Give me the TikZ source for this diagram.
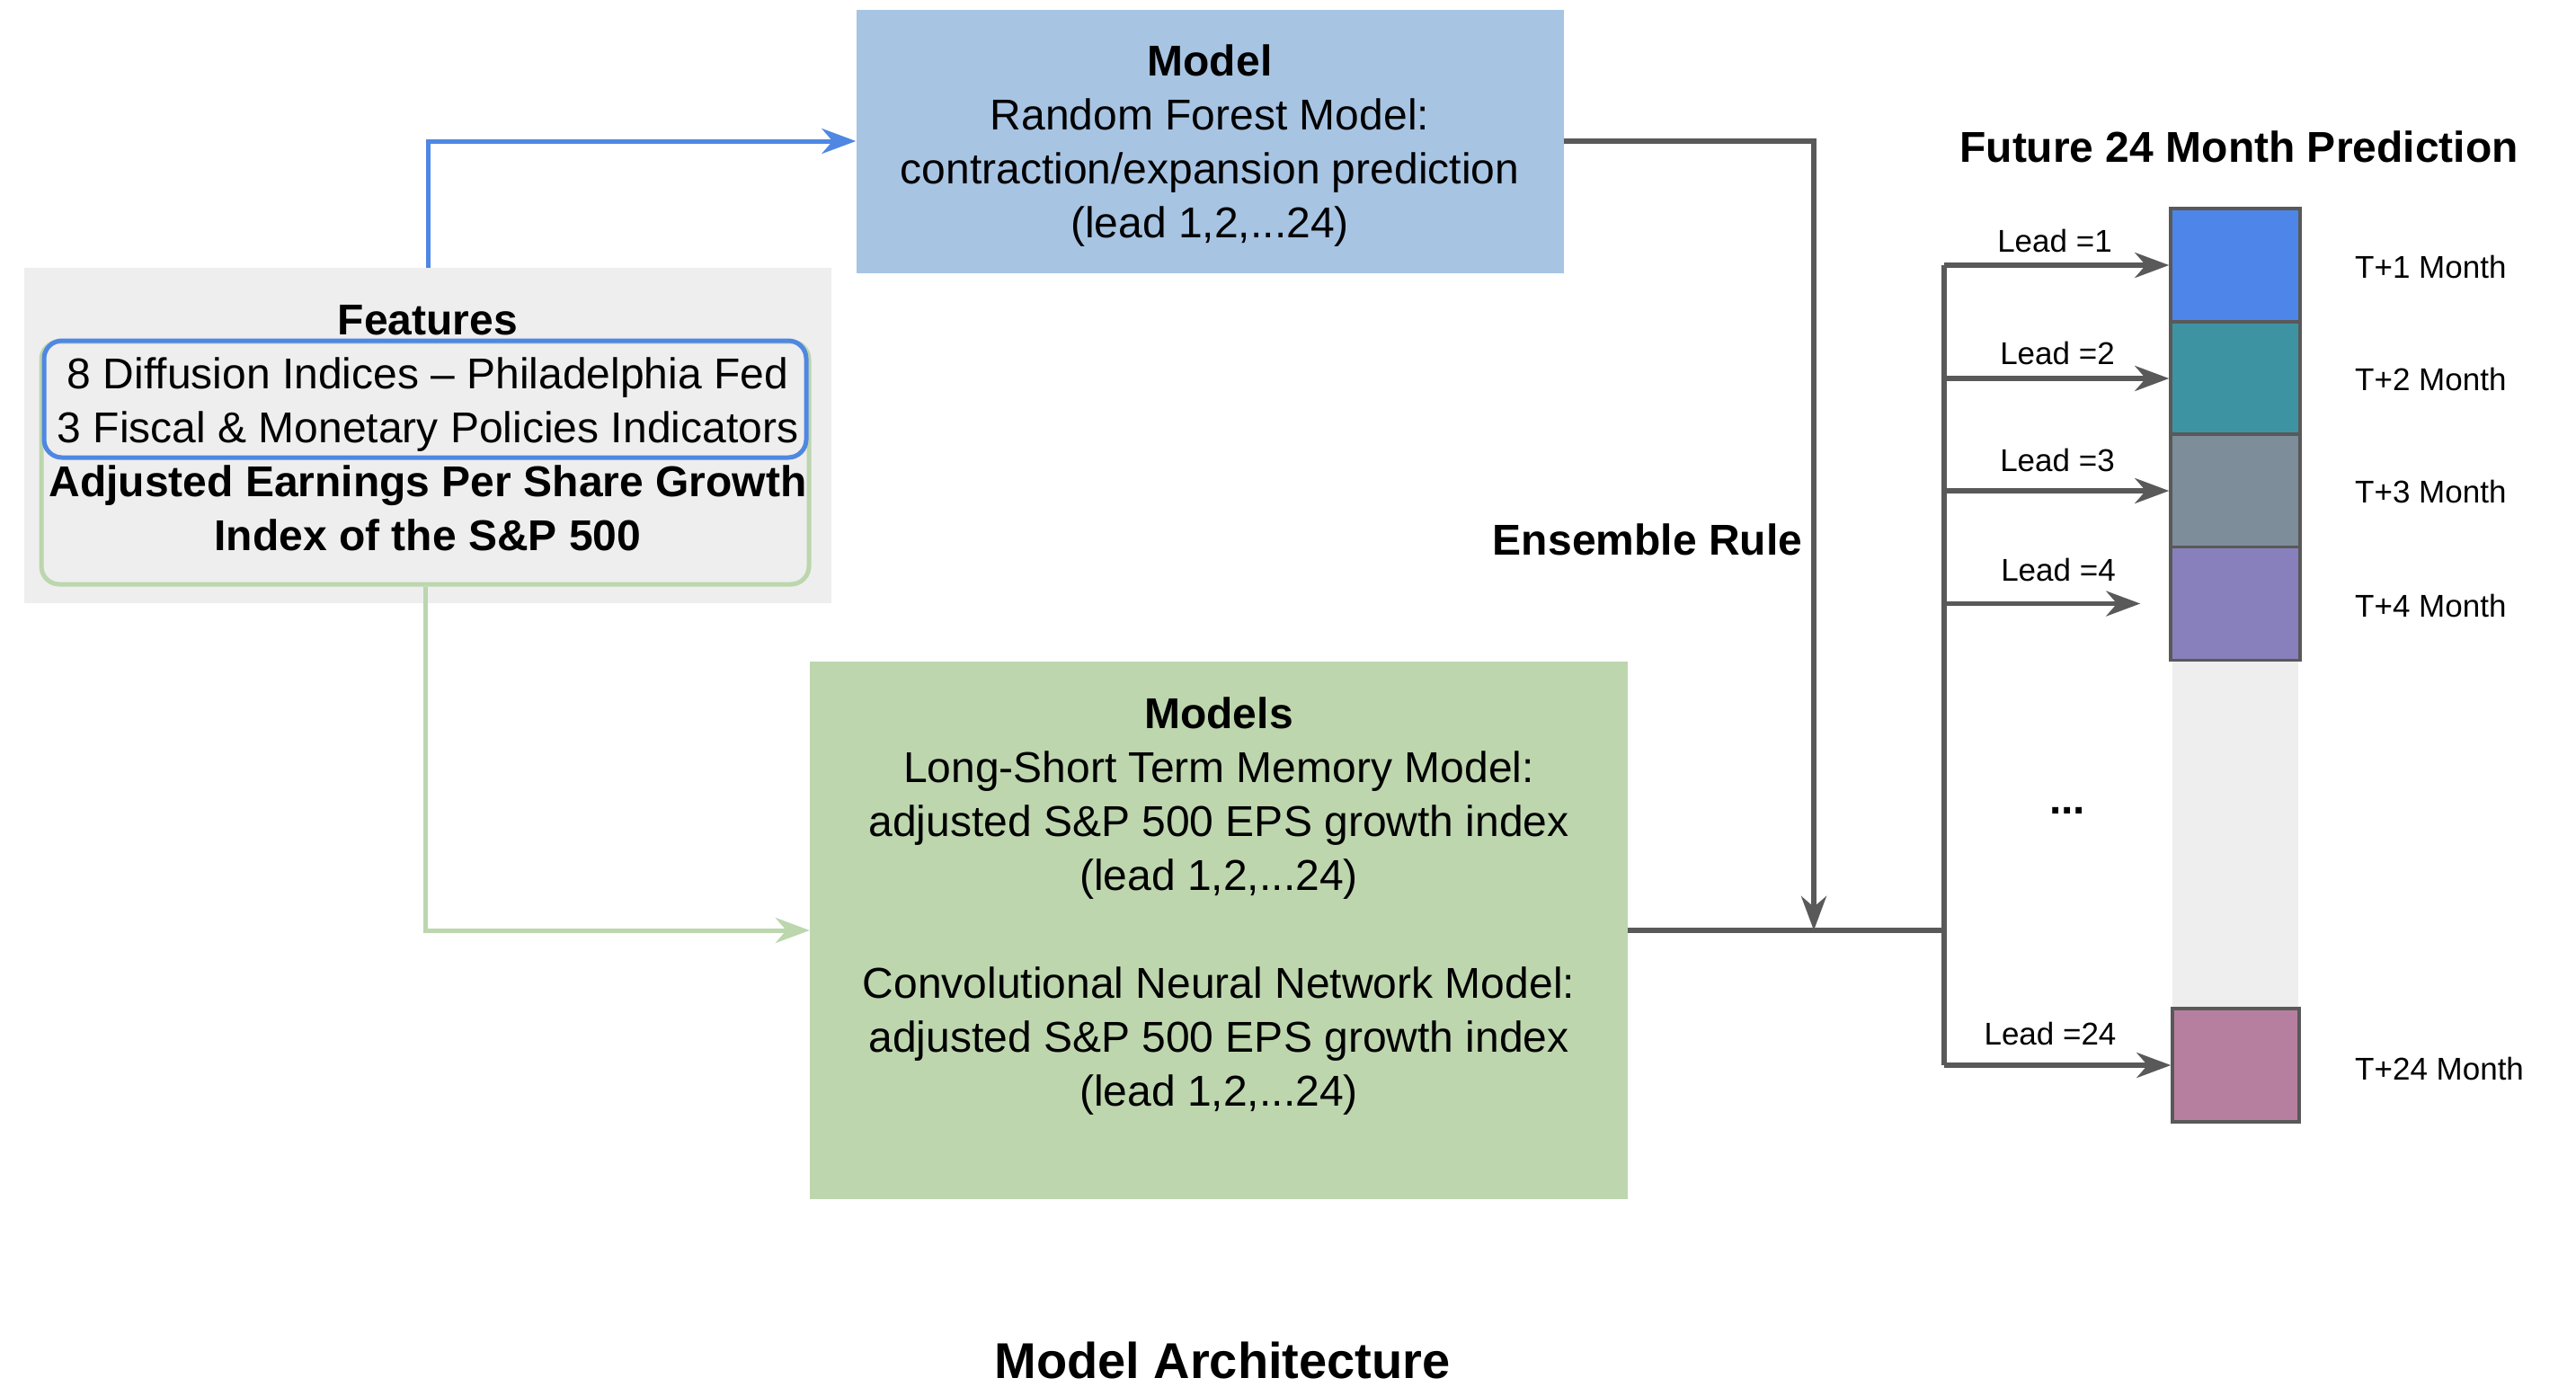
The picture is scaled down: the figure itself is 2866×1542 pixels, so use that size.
\documentclass[tikz,border=0pt]{standalone}
\usepackage{fontspec}
\setmainfont{Liberation Sans}
\usetikzlibrary{arrows.meta}
\definecolor{boxblue}{HTML}{A7C4E3}
\definecolor{boxgreen}{HTML}{BDD6AE}
\definecolor{bggray}{HTML}{EEEEEE}
\definecolor{lineblue}{HTML}{4F87E2}
\definecolor{linegreen}{HTML}{BCD6AD}
\definecolor{dk}{HTML}{595959}
\definecolor{cA}{HTML}{4D86E8}
\definecolor{cB}{HTML}{3E93A3}
\definecolor{cC}{HTML}{7D8D99}
\definecolor{cD}{HTML}{8880BC}
\definecolor{cE}{HTML}{B77F9F}
\tikzset{
  big/.style={font=\fontsize{48}{60}\selectfont},
  small/.style={font=\fontsize{35}{42}\selectfont},
  tip/.style={-{Stealth[length=38pt,width=28pt,inset=12pt]}},
  dkline/.style={draw=dk, line width=5.5pt},
  blk/.style={draw=dk, line width=3.5pt, minimum width=144pt, minimum height=126pt, inner sep=0pt},
}
\begin{document}
\begin{tikzpicture}[x=1pt,y=-1pt]
\useasboundingbox (0,0) rectangle (2866,1542);
% Model box
\node[fill=boxblue, minimum width=787pt, minimum height=293pt, inner sep=0pt] (model) at (1346,157) {};
\node[big, align=center] (modeltext) at (1346,162)
  {\textbf{Model}\\Random Forest Model:\\contraction/expansion prediction\\(lead 1,2,...24)};
% Models box
\node[fill=boxgreen, minimum width=910pt, minimum height=598pt, inner sep=0pt] (models) at (1356,1035) {};
\node[big, align=center] (modelstext) at (1356,1008)
  {\textbf{Models}\\Long-Short Term Memory Model:\\adjusted S\&P 500 EPS growth index\\(lead 1,2,...24)\\[60pt]Convolutional Neural Network Model:\\adjusted S\&P 500 EPS growth index\\(lead 1,2,...24)};
% Features
\node[fill=bggray, minimum width=898pt, minimum height=373pt, inner sep=0pt] (feat) at (476,484.5) {};
\node[draw=linegreen, line width=5pt, rounded corners=20pt, minimum width=854pt, minimum height=270pt, inner sep=0pt] (ginner) at (473,515) {};
\node[draw=lineblue, line width=5pt, rounded corners=20pt, minimum width=848pt, minimum height=130pt, inner sep=0pt] (binner) at (473,444) {};
\node[big, align=center] (feattext) at (476,476)
  {\textbf{Features}\\8 Diffusion Indices -- Philadelphia Fed\\3 Fiscal \& Monetary Policies Indicators\\\textbf{Adjusted Earnings Per Share Growth}\\\textbf{Index of the S\&P 500}};
% connectors from features
\draw[lineblue, line width=5pt, tip] (feat.north) |- (model.west);
\draw[linegreen, line width=5pt, tip] (ginner.south) |- (models.west);
% ensemble
\coordinate (ens) at (2018,1035);
\coordinate (jT) at (2163,295);
\coordinate (jB) at (2163,1185);
\coordinate (jM) at (2166,1035);
\draw[dkline, tip] (model.east) -| (ens);
\draw[dkline] (models.east) -- (jM);
\draw[dkline] (jT) -- (jB);
% prediction column
\node[fill=bggray, minimum width=140pt, minimum height=390pt, inner sep=0pt] (gap) at (2487,928) {};
\node[blk, fill=cA] (b1) at (2487,295) {};
\node[blk, fill=cB] (b2) at (2487,421) {};
\node[blk, fill=cC] (b3) at (2487,546) {};
\node[blk, fill=cD] (b4) at (2487,671.5) {};
\node[blk, fill=cE, minimum width=141pt] (b24) at (2487.5,1185) {};
\coordinate (j2) at (2163,421);
\coordinate (j3) at (2163,546);
\coordinate (j4) at (2163,671.5);
\draw[dkline, tip] (jT) -- (b1.west);
\draw[dkline, tip] (j2) -- (b2.west);
\draw[dkline, tip] (j3) -- (b3.west);
\draw[dkline, tip, shorten >=32pt] (j4) -- (b4.west);
\draw[dkline, tip] (jB) -- (b24.west);
% labels
\node[small] (l1) at (2286,268) {Lead =1};
\node[small] (l2) at (2289,393) {Lead =2};
\node[small] (l3) at (2289,512) {Lead =3};
\node[small] (l4) at (2290,634) {Lead =4};
\node[small] (l24) at (2281,1150) {Lead =24};
\node[small, anchor=west, inner sep=0pt] (t1) at (2620,297) {T+1 Month};
\node[small, anchor=west, inner sep=0pt] (t2) at (2620,422) {T+2 Month};
\node[small, anchor=west, inner sep=0pt] (t3) at (2620,547) {T+3 Month};
\node[small, anchor=west, inner sep=0pt] (t4) at (2620,674) {T+4 Month};
\node[small, anchor=west, inner sep=0pt] (t24) at (2620,1189) {T+24 Month};
\node[big] (dots) at (2300,902) {\textbf{...}};
\node[big] (future) at (2491,163) {\textbf{Future 24 Month Prediction}};
\node[big] (ensrule) at (1833,600) {\textbf{Ensemble Rule}};
\node[font=\fontsize{56}{66}\selectfont] (arch) at (1360,1513) {\textbf{Model Architecture}};
\end{tikzpicture}
\end{document}
